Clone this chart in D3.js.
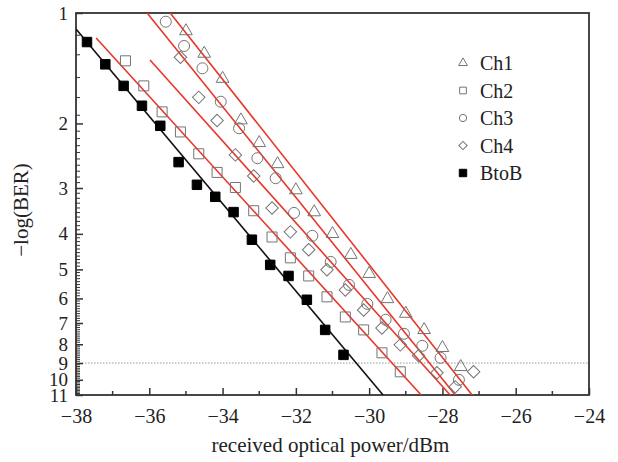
<!DOCTYPE html>
<html>
<head>
<meta charset="utf-8">
<script src="https://cdn.jsdelivr.net/npm/d3@7"></script>
<style>
  body { margin: 0; background: #fff; }
  text { font-family: "Liberation Serif", "Times New Roman", serif; fill: #222; }
</style>
</head>
<body>
<div id="chart"></div>
<script>
const width = 618;
const height = 462;
const serif = "'Liberation Serif', 'Times New Roman', serif";

// data: x = received optical power (dBm), y = -log(BER)
const btobX = [-37.7, -37.2, -36.7, -36.2, -35.7, -35.2, -34.7, -34.2, -33.7, -33.2, -32.7, -32.2, -31.7, -31.2, -30.7];
const btobY = [1.2, 1.38, 1.58, 1.79, 2.03, 2.55, 2.94, 3.17, 3.49, 4.15, 4.86, 5.21, 6.05, 7.31, 8.55];

const ch1X = [-35.0, -34.5, -34.0, -33.5, -33.0, -32.5, -32.0, -31.5, -31.0, -30.5, -30.0, -29.5, -29.0, -28.5, -28.0, -27.5];
const ch1Y = [1.12, 1.29, 1.51, 1.96, 2.26, 2.58, 3.04, 3.49, 4.0, 4.56, 5.14, 6.02, 6.6, 7.31, 8.18, 9.22];

const ch2X = [-36.65, -36.15, -35.65, -35.15, -34.65, -34.15, -33.65, -33.15, -32.65, -32.15, -31.65, -31.15, -30.65, -30.15, -29.65, -29.15];
const ch2Y = [1.35, 1.58, 1.86, 2.11, 2.42, 2.72, 2.99, 3.46, 4.08, 4.65, 5.21, 5.94, 6.74, 7.31, 8.44, 9.51];

const ch3X = [-35.55, -35.05, -34.55, -34.05, -33.55, -33.05, -32.55, -32.05, -31.55, -31.05, -30.55, -30.05, -29.55, -29.05, -28.55, -28.05, -27.55];
const ch3Y = [1.056, 1.23, 1.415, 1.745, 2.062, 2.488, 2.821, 3.507, 4.05, 4.77, 5.51, 6.21, 6.86, 7.49, 8.08, 8.71, 10.0];

const ch4X = [-35.15, -34.65, -34.15, -33.65, -33.15, -32.65, -32.15, -31.65, -31.15, -30.65, -30.15, -29.65, -29.15, -28.65, -28.15, -27.65, -27.15];
const ch4Y = [1.32, 1.698, 1.963, 2.437, 2.781, 3.40, 3.95, 4.42, 5.01, 5.69, 6.45, 7.22, 8.03, 8.6, 9.57, 10.45, 9.51];

// fitted lines, endpoints [x0, y0, x1, y1]
const fitBtoB = [-38, 1.105, -29.62, 11];
const fitCh1 = [-35.43, 1, -27.19, 11];
const fitCh2 = [-37.45, 1.17, -28.58, 11];
const fitCh3 = [-36.06, 1, -27.65, 11];
const fitCh4 = [-35.98, 1.343, -27.79, 11];

const xTicks = [-38, -36, -34, -32, -30, -28, -26, -24];
const xMinor = [-37, -35, -33, -31, -29, -27, -25];
const yTicks = [1, 2, 3, 4, 5, 6, 7, 8, 9, 10, 11];
const yMinorLow = [1.15, 1.3, 1.5, 1.7, 1.9];
const thresholdY = 9;

const legendNames = ["Ch1", "Ch2", "Ch3", "Ch4", "BtoB"];

const pLeft = 76, pRight = 589, pTop = 13, pBottom = 395;

const x = d3.scaleLinear().domain([-38, -24]).range([pLeft, pRight]);
const y = d3.scaleLog().domain([1, 11]).range([pTop, pBottom]);

const svg = d3.select("#chart")
  .append("svg")
  .attr("width", width)
  .attr("height", height);

const defs = svg.append("defs");
defs.append("clipPath").attr("id", "clip")
  .append("rect")
  .attr("x", pLeft).attr("y", pTop)
  .attr("width", pRight - pLeft).attr("height", pBottom - pTop);

// threshold dotted line
svg.append("line")
  .attr("x1", pLeft).attr("x2", pRight)
  .attr("y1", y(thresholdY)).attr("y2", y(thresholdY))
  .attr("stroke", "#999")
  .attr("stroke-width", 1)
  .attr("stroke-dasharray", "1.5,1.5");

// x axis
const xAxis = svg.append("g")
  .attr("transform", `translate(0,${pBottom})`)
  .call(d3.axisBottom(x).tickValues(xTicks).tickSizeInner(-7).tickSizeOuter(0).tickPadding(14));
xAxis.attr("font-family", serif);
xAxis.select(".domain").remove();
xAxis.selectAll("text").attr("font-size", 20).style("font-family", serif);
xAxis.selectAll("line").attr("stroke", "#333").attr("stroke-width", 1.5);

svg.append("g")
  .selectAll("line")
  .data(xMinor)
  .enter()
  .append("line")
  .attr("x1", d => x(d)).attr("x2", d => x(d))
  .attr("y1", pBottom).attr("y2", pBottom - 4)
  .attr("stroke", "#333").attr("stroke-width", 1.5);

// y axis
const yAxis = svg.append("g")
  .attr("transform", `translate(${pLeft},0)`)
  .call(d3.axisLeft(y).tickValues(yTicks).tickFormat(d3.format("d")).tickSizeInner(-7).tickSizeOuter(0).tickPadding(8));
yAxis.attr("font-family", serif);
yAxis.select(".domain").remove();
yAxis.selectAll("text").attr("font-size", 19).style("font-family", serif);
yAxis.selectAll("line").attr("stroke", "#333").attr("stroke-width", 1.5);

const yMinor = yMinorLow.concat(d3.range(2, 11).flatMap(i => d3.range(1, 10).map(k => i + k / 10)));
svg.append("g")
  .selectAll("line")
  .data(yMinor)
  .enter()
  .append("line")
  .attr("x1", pLeft).attr("x2", pLeft + 4)
  .attr("y1", d => y(d)).attr("y2", d => y(d))
  .attr("stroke", "#333").attr("stroke-width", 1);

// frame
svg.append("rect")
  .attr("x", pLeft).attr("y", pTop)
  .attr("width", pRight - pLeft).attr("height", pBottom - pTop)
  .attr("fill", "none")
  .attr("stroke", "#333")
  .attr("stroke-width", 1.8);

// fit lines
const plot = svg.append("g").attr("clip-path", "url(#clip)");
const fits = [
  { f: fitCh2, c: "#e8372a" },
  { f: fitCh4, c: "#e8372a" },
  { f: fitCh3, c: "#e8372a" },
  { f: fitCh1, c: "#e8372a" },
  { f: fitBtoB, c: "#111" }
];
plot.selectAll("line.fit")
  .data(fits)
  .enter()
  .append("line")
  .attr("class", "fit")
  .attr("x1", d => x(d.f[0])).attr("y1", d => y(d.f[1]))
  .attr("x2", d => x(d.f[2])).attr("y2", d => y(d.f[3]))
  .attr("stroke", d => d.c)
  .attr("stroke-width", 1.6);

// markers
const grey = "#747474";
const series = [
  { xs: ch1X, ys: ch1Y, type: d3.symbolTriangle, size: 70, rot: 0, fill: "none", stroke: grey },
  { xs: ch2X, ys: ch2Y, type: d3.symbolSquare, size: 100, rot: 0, fill: "none", stroke: grey },
  { xs: ch3X, ys: ch3Y, type: d3.symbolCircle, size: 95, rot: 0, fill: "none", stroke: grey },
  { xs: ch4X, ys: ch4Y, type: d3.symbolSquare, size: 78, rot: 45, fill: "none", stroke: grey },
  { xs: btobX, ys: btobY, type: d3.symbolSquare, size: 90, rot: 0, fill: "#000", stroke: "#000" }
];

series.forEach(s => {
  plot.append("g")
    .selectAll("path")
    .data(s.xs.map((v, i) => [v, s.ys[i]]))
    .enter()
    .append("path")
    .attr("d", d3.symbol().type(s.type).size(s.size))
    .attr("transform", d => `translate(${x(d[0])},${y(d[1])}) rotate(${s.rot})`)
    .attr("fill", s.fill)
    .attr("stroke", s.stroke)
    .attr("stroke-width", 1);
});

// legend
const legend = svg.append("g").attr("transform", "translate(463,63)");
const legendSizes = [34, 45, 42, 34, 55];
legendNames.forEach((name, i) => {
  const s = series[i];
  const row = legend.append("g").attr("transform", `translate(0,${i * 27.5})`);
  row.append("path")
    .attr("d", d3.symbol().type(s.type).size(legendSizes[i]))
    .attr("transform", `rotate(${s.rot})`)
    .attr("fill", s.fill)
    .attr("stroke", s.stroke)
    .attr("stroke-width", 1);
  row.append("text")
    .attr("x", 17)
    .attr("y", 7)
    .attr("font-size", 20)
    .attr("font-family", serif)
    .text(name);
});

// axis titles
svg.append("text")
  .attr("x", (pLeft + pRight) / 2 - 2)
  .attr("y", 452)
  .attr("text-anchor", "middle")
  .attr("font-size", 21)
  .attr("font-family", serif)
  .text("received optical power/dBm");

svg.append("text")
  .attr("transform", "translate(28,210) rotate(-90)")
  .attr("text-anchor", "middle")
  .attr("font-size", 21)
  .attr("font-family", serif)
  .text("−log(BER)");
</script>
</body>
</html>
